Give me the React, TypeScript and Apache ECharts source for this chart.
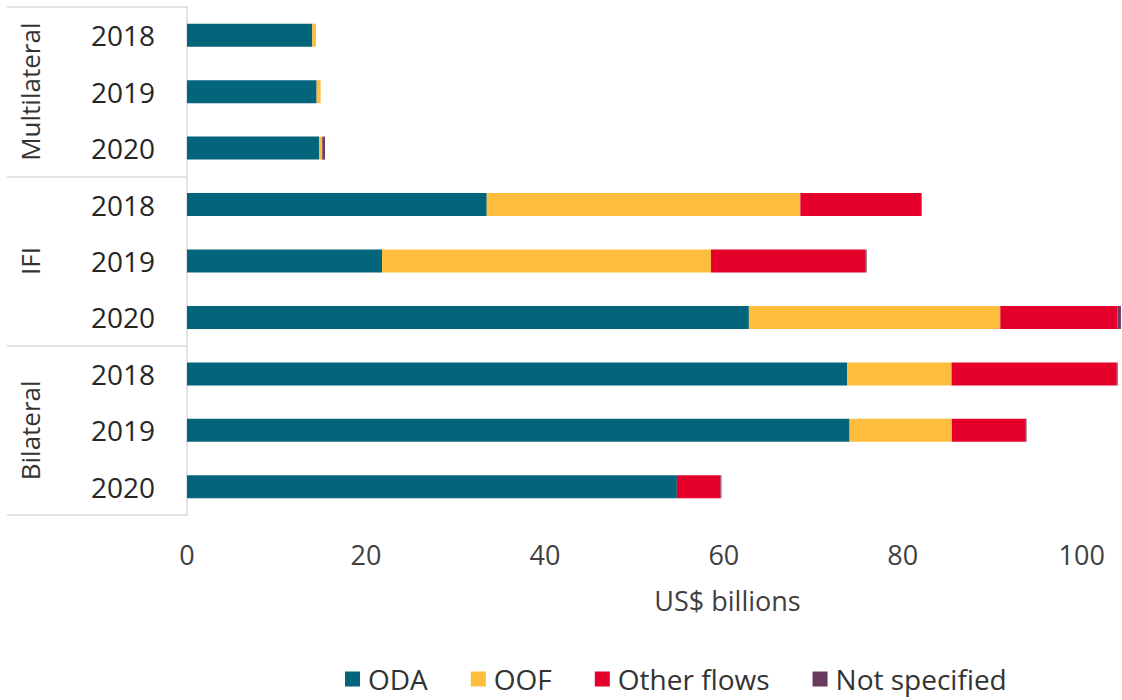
import React, { useEffect, useRef } from "react";
import * as echarts from "echarts";

const years = ["2018", "2019", "2020", "2018", "2019", "2020", "2018", "2019", "2020"];
const groups = ["Multilateral", "IFI", "Bilateral"];
const odaValues = [14.0, 14.49, 14.75, 33.5, 21.8, 62.8, 73.8, 74.05, 54.75];
const oofValues = [0.41, 0.45, 0.37, 35.05, 36.76, 28.1, 11.65, 11.43, 0];
const otherValues = [0, 0, 0, 13.5, 17.3, 13.1, 18.47, 8.27, 4.88];
const notSpecifiedValues = [0, 0, 0.3, 0.07, 0.1, 0.38, 0.1, 0.08, 0.1];
const xTicks = [0, 20, 40, 60, 80, 100];

const FONT = "'Open Sans', 'Noto Sans', sans-serif";
const GRID_TOP = 7;
const GRID_BOTTOM_Y = 515;
const GRID_LEFT = 187;

export default function App() {
  const ref = useRef<HTMLDivElement>(null);

  useEffect(() => {
    if (!ref.current) return;
    const chart = echarts.init(ref.current, undefined, { renderer: "svg" });
    const plotH = GRID_BOTTOM_Y - GRID_TOP;
    const groupLabels = groups.map((g, i) => ({
      type: "text",
      x: 30,
      y: GRID_TOP + (plotH * (i + 0.5)) / 3,
      rotation: Math.PI / 2,
      style: {
        text: g,
        fill: "#333333",
        font: `26px ${FONT}`,
        align: "center",
        verticalAlign: "middle",
      },
    }));

    const mk = (name: string, data: number[], color: string) => ({
      name,
      type: "bar",
      stack: "total",
      data,
      barWidth: 23,
      itemStyle: { color },
      emphasis: { disabled: true },
    });

    chart.setOption({
      animation: false,
      textStyle: { fontFamily: FONT },
      grid: { left: GRID_LEFT, right: 0, top: GRID_TOP, bottom: 700 - GRID_BOTTOM_Y, containLabel: false },
      xAxis: {
        type: "value",
        min: 0,
        max: 104.5,
        interval: 20,
        axisLine: { show: false },
        axisTick: { show: false },
        splitLine: { show: false },
        axisLabel: {
          fontSize: 27,
          color: "#404040",
          margin: 26,
          fontFamily: FONT,
          showMaxLabel: false,
          formatter: (v: number) => (xTicks.includes(v) ? String(v) : ""),
        },
        name: "US$ billions",
        nameLocation: "middle",
        nameGap: 72,
        nameTextStyle: { fontSize: 27, color: "#404040", fontFamily: FONT, padding: [0, 0, 0, 146] },
      },
      yAxis: [
        {
          type: "category",
          data: years,
          inverse: true,
          axisLine: { show: true, lineStyle: { color: "#d9d9d9", width: 1.5 } },
          axisTick: { show: false },
          axisLabel: { fontSize: 28, color: "#262626", margin: 32, fontFamily: FONT },
        },
        {
          type: "category",
          data: groups,
          inverse: true,
          position: "left",
          axisLine: { show: false },
          axisTick: { show: true, length: 180, lineStyle: { color: "#d9d9d9", width: 1.5 } },
          axisLabel: { show: false },
        },
      ],
      legend: {
        left: 345,
        top: 665,
        padding: 0,
        itemWidth: 15,
        itemHeight: 15,
        itemGap: 43,
        icon: "rect",
        selectedMode: false,
        textStyle: { fontSize: 28, lineHeight: 26, color: "#333333", fontFamily: FONT, padding: [0, 0, 0, 3] },
        data: ["ODA", "OOF", "Other flows", "Not specified"],
      },
      graphic: groupLabels,
      series: [
        mk("ODA", odaValues, "#03657B"),
        mk("OOF", oofValues, "#FFBD3D"),
        mk("Other flows", otherValues, "#E4002B"),
        mk("Not specified", notSpecifiedValues, "#6A3B5E"),
      ],
    });
    return () => chart.dispose();
  }, []);

  return (
    <div
      ref={ref}
      style={{ position: "fixed", left: 0, top: 0, width: 1122, height: 700, background: "#fff" }}
    />
  );
}
